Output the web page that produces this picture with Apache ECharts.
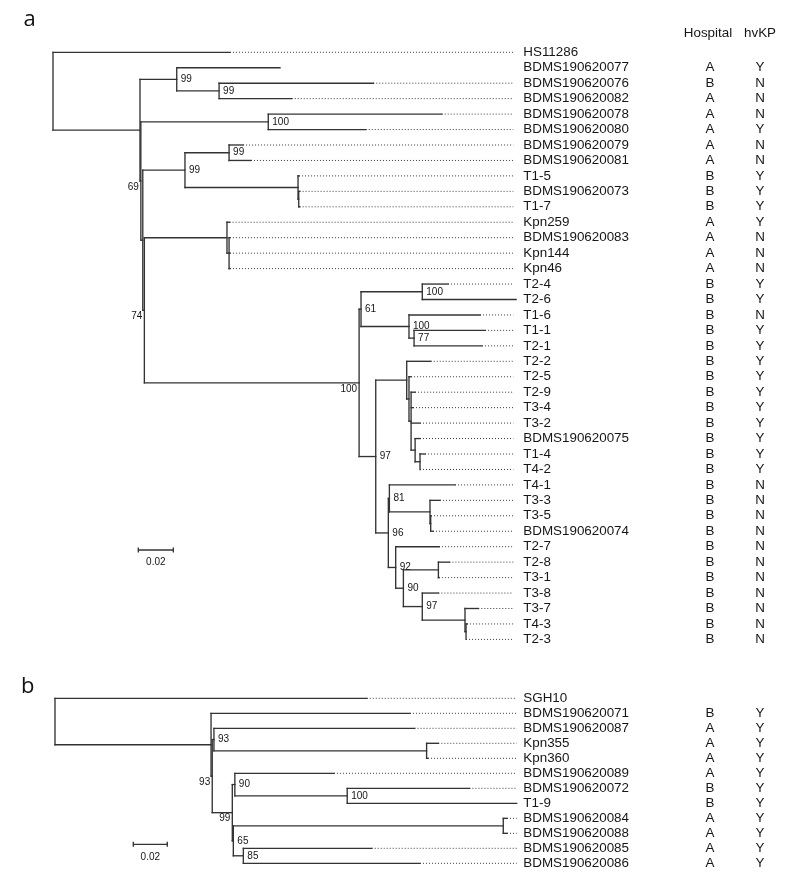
<!DOCTYPE html>
<html>
<head>
<meta charset="utf-8">
<script src="https://cdn.jsdelivr.net/npm/echarts@6.0.0/dist/echarts.min.js"></script>
<style>html,body{margin:0;padding:0;background:#fff}#chart{width:800px;height:875px}</style>
</head>
<body>
<div id="chart"></div>
<script>
// ================= Panel a : data =================
const leavesA = ['HS11286','BDMS190620077','BDMS190620076','BDMS190620082','BDMS190620078','BDMS190620080',
  'BDMS190620079','BDMS190620081','T1-5','BDMS190620073','T1-7','Kpn259','BDMS190620083','Kpn144','Kpn46',
  'T2-4','T2-6','T1-6','T1-1','T2-1','T2-2','T2-5','T2-9','T3-4','T3-2','BDMS190620075','T1-4','T4-2',
  'T4-1','T3-3','T3-5','BDMS190620074','T2-7','T2-8','T3-1','T3-8','T3-7','T4-3','T2-3'];
// distance from root to each tip (substitutions/site)
const tipsA = [0.1011,0.1297,0.1830,0.1364,0.2221,0.1787,
  0.1086,0.1131,0.1406,0.1409,0.1409,0.1009,0.1011,0.1011,0.1011,
  0.2257,0.2646,0.2440,0.2469,0.2451,0.2158,0.2046,0.2069,0.2057,0.2097,0.2097,0.2126,0.2097,
  0.2297,0.2211,0.2160,0.2171,0.2206,0.2265,0.2206,0.2202,0.2430,0.2366,0.2360];
const hospitalA = ['','A','B','A','A','A','A','A','B','B','B','A','A','A','A',
  'B','B','B','B','B','B','B','B','B','B','B','B','B','B','B','B','B','B','B','B','B','B','B','B'];
const hvkpA = ['','Y','N','N','N','Y','N','N','Y','Y','Y','Y','N','N','N',
  'Y','Y','N','Y','Y','Y','Y','Y','Y','Y','Y','Y','Y','N','N','N','N','N','N','N','N','N','N','N'];
// internal nodes: [id, depth from root, bootstrap, children, label side]
const nodesA = [
  ['rootA', 0, 0, ['HS11286','a1']],
  ['a1', 0.0497, 0, ['a99a','a69']],
  ['a99a', 0.0707, 99, ['BDMS190620077','a99b']],
  ['a99b', 0.0949, 99, ['BDMS190620076','BDMS190620082']],
  ['a69', 0.0502, 69, ['a100a','aQ'], 'l'],
  ['a100a', 0.1230, 100, ['BDMS190620078','BDMS190620080']],
  ['aQ', 0.0513, 0, ['a99c','a74']],
  ['a99c', 0.0754, 99, ['a99d','aT15']],
  ['a99d', 0.1006, 99, ['BDMS190620079','BDMS190620081']],
  ['aT15', 0.1400, 0, ['T1-5','aT15b']],
  ['aT15b', 0.1404, 0, ['BDMS190620073','T1-7']],
  ['a74', 0.0522, 74, ['aK1','a100T'], 'l'],
  ['aK1', 0.0994, 0, ['Kpn259','aK2']],
  ['aK2', 0.1006, 0, ['BDMS190620083','Kpn144','Kpn46']],
  ['a100T', 0.1749, 100, ['a61','a97'], 'l'],
  ['a61', 0.1760, 61, ['a100b','a100c']],
  ['a100b', 0.2110, 100, ['T2-4','T2-6']],
  ['a100c', 0.2034, 100, ['T1-6','a77']],
  ['a77', 0.2063, 77, ['T1-1','T2-1']],
  ['a97', 0.1844, 97, ['aU0','a96']],
  ['aU0', 0.2021, 0, ['T2-2','aU1']],
  ['aU1', 0.2034, 0, ['T2-5','aU2']],
  ['aU2', 0.2046, 0, ['T2-9','T3-4','T3-2','aW']],
  ['aW', 0.2069, 0, ['BDMS190620075','aV']],
  ['aV', 0.2097, 0, ['T1-4','T4-2']],
  ['a96', 0.1916, 96, ['a81','a92']],
  ['a81', 0.1922, 81, ['T4-1','aT33']],
  ['aT33', 0.2154, 0, ['T3-3','aT33b']],
  ['aT33b', 0.2158, 0, ['T3-5','BDMS190620074']],
  ['a92', 0.1958, 92, ['T2-7','a90']],
  ['a90', 0.2002, 90, ['aT28','a97b']],
  ['aT28', 0.2202, 0, ['T2-8','T3-1']],
  ['a97b', 0.2110, 97, ['T3-8','aT37']],
  ['aT37', 0.2354, 0, ['T3-7','aT37b']],
  ['aT37b', 0.2360, 0, ['T4-3','T2-3']]
];
const noGuideA = ['BDMS190620077'];
const alignA = 0.2630;

// ================= Panel b : data =================
const leavesB = ['SGH10','BDMS190620071','BDMS190620087','Kpn355','Kpn360','BDMS190620089',
  'BDMS190620072','T1-9','BDMS190620084','BDMS190620088','BDMS190620085','BDMS190620086'];
const tipsB = [0.1834,0.2088,0.2115,0.2255,0.2194,0.1641,0.2438,0.2716,0.2659,0.2659,0.1863,0.2147];
const hospitalB = ['','B','A','A','A','A','B','B','A','A','A','A'];
const hvkpB = ['','Y','Y','Y','Y','Y','Y','Y','Y','Y','Y','Y'];
const nodesB = [
  ['rootB', 0, 0, ['SGH10','b1']],
  ['b1', 0.0918, 0, ['BDMS190620071','b93a']],
  ['b93a', 0.0925, 93, ['b93b','b99'], 'l'],
  ['b93b', 0.0935, 93, ['BDMS190620087','bK']],
  ['bK', 0.2186, 0, ['Kpn355','Kpn360']],
  ['b99', 0.1043, 99, ['b90','b65'], 'l'],
  ['b90', 0.1058, 90, ['BDMS190620089','b100']],
  ['b100', 0.1719, 100, ['BDMS190620072','T1-9']],
  ['b65', 0.1049, 65, ['b8488','b85']],
  ['b8488', 0.2637, 0, ['BDMS190620084','BDMS190620088']],
  ['b85', 0.1108, 85, ['BDMS190620085','BDMS190620086']]
];
const noGuideB = [];
const alignB = 0.2716;

const scaleBarLen = 0.02;
const scaleBarLabel = '0.02';
const columnHeaders = ['Hospital', 'hvKP'];
const panelLetters = ['a', 'b'];

// ================= tree layout =================
function buildTree(leaves, tips, nodes, noGuide, align) {
  const X = {}, Y = {}, map = {};
  leaves.forEach((n, i) => { X[n] = tips[i]; Y[n] = i; });
  nodes.forEach(n => { map[n[0]] = n; });
  function place(id) {
    if (Y[id] !== undefined) return Y[id];
    const n = map[id];
    const ys = n[3].map(place);
    Y[id] = (ys[0] + ys[ys.length - 1]) / 2;
    X[id] = n[1];
    return Y[id];
  }
  place(nodes[0][0]);
  const solid = [], dotted = [], support = [], labels = [];
  nodes.forEach(n => {
    const id = n[0], kids = n[3];
    solid.push([X[id], Y[kids[0]], X[id], Y[kids[kids.length - 1]]]);
    kids.forEach(k => solid.push([X[id], Y[k], X[k], Y[k]]));
    if (n[2]) support.push([X[id], Y[id], n[2], n[4] === 'l' ? 1 : 0]);
  });
  leaves.forEach((l, i) => {
    if (noGuide.indexOf(l) < 0 && tips[i] < align) dotted.push([tips[i], i, align, i]);
    labels.push([align, i, i]);
  });
  return { solid, dotted, support, labels };
}
const treeA = buildTree(leavesA, tipsA, nodesA, noGuideA, alignA);
const treeB = buildTree(leavesB, tipsB, nodesB, noGuideB, alignB);

// ================= styling / layout =================
const LINE = '#333';
const DOT = '#3a3a3a';
const TXT = '#161616';
const FONT = '"Liberation Sans", Arial, sans-serif';
const HOSP_X = 710, HV_X = 760;

function segRender(dotted) {
  return function (params, api) {
    const p1 = api.coord([api.value(0), api.value(1)]);
    const p2 = api.coord([api.value(2), api.value(3)]);
    return {
      type: 'line',
      shape: { x1: p1[0], y1: p1[1], x2: p2[0], y2: p2[1] },
      style: dotted
        ? { stroke: DOT, lineWidth: 1, lineDash: [1, 2] }
        : { stroke: LINE, lineWidth: 1.35, lineCap: 'square' }
    };
  };
}
function supportRender(params, api) {
  const p = api.coord([api.value(0), api.value(1)]);
  const left = api.value(3) === 1;
  return {
    type: 'text',
    x: left ? p[0] - 2 : p[0] + 4,
    y: left ? p[1] + 6 : p[1],
    style: { text: String(api.value(2)), fill: TXT, fontSize: 10, fontFamily: FONT,
      align: left ? 'right' : 'left', verticalAlign: 'middle' }
  };
}
function labelRender(leaves, hosp, hv, pad) {
  return function (params, api) {
    const p = api.coord([api.value(0), api.value(1)]);
    const i = api.value(2);
    const st = (t, al) => ({ text: t, fill: TXT, fontSize: 13.4, fontFamily: FONT, align: al, verticalAlign: 'middle' });
    return {
      type: 'group',
      children: [
        { type: 'text', x: p[0] + pad, y: p[1], style: st(leaves[i], 'left') },
        { type: 'text', x: HOSP_X, y: p[1], style: st(hosp[i], 'center') },
        { type: 'text', x: HV_X, y: p[1], style: st(hv[i], 'center') }
      ]
    };
  };
}
function scaleRender(x0, y0) {
  return function (params, api) {
    const len = api.size([api.value(0), 0])[0];
    const s = { stroke: LINE, lineWidth: 1.35 };
    return {
      type: 'group',
      children: [
        { type: 'line', shape: { x1: x0, y1: y0, x2: x0 + len, y2: y0 }, style: s },
        { type: 'line', shape: { x1: x0, y1: y0 - 2.5, x2: x0, y2: y0 + 2.5 }, style: s },
        { type: 'line', shape: { x1: x0 + len, y1: y0 - 2.5, x2: x0 + len, y2: y0 + 2.5 }, style: s },
        { type: 'text', x: x0 + len / 2, y: y0 + 12.5,
          style: { text: scaleBarLabel, fill: TXT, fontSize: 10, fontFamily: FONT, align: 'center', verticalAlign: 'middle' } }
      ]
    };
  };
}

function seriesFor(tree, idx, leaves, hosp, hv, pad, sx, sy) {
  const base = { type: 'custom', coordinateSystem: 'cartesian2d', xAxisIndex: idx, yAxisIndex: idx, silent: true, clip: false, animation: false };
  return [
    Object.assign({}, base, { renderItem: segRender(true), data: tree.dotted, z: 1 }),
    Object.assign({}, base, { renderItem: segRender(false), data: tree.solid, z: 2 }),
    Object.assign({}, base, { renderItem: supportRender, data: tree.support, z: 3 }),
    Object.assign({}, base, { renderItem: labelRender(leaves, hosp, hv, pad), data: tree.labels, z: 3 }),
    Object.assign({}, base, { renderItem: scaleRender(sx, sy), data: [[scaleBarLen]], z: 3 })
  ];
}

const chart = echarts.init(document.getElementById('chart'), null, { renderer: 'canvas' });
chart.setOption({
  animation: false,
  backgroundColor: '#fff',
  grid: [
    { left: 53, top: 52.3, width: 460.3, height: 587.1, containLabel: false, outerBoundsMode: 'none' },
    { left: 55, top: 698.3, width: 461.7, height: 165, containLabel: false, outerBoundsMode: 'none' }
  ],
  xAxis: [
    { type: 'value', gridIndex: 0, min: 0, max: alignA, show: false },
    { type: 'value', gridIndex: 1, min: 0, max: alignB, show: false }
  ],
  yAxis: [
    { type: 'value', gridIndex: 0, min: 0, max: leavesA.length - 1, inverse: true, show: false },
    { type: 'value', gridIndex: 1, min: 0, max: leavesB.length - 1, inverse: true, show: false }
  ],
  graphic: [
    { type: 'text', x: 23.5, y: 20, style: { text: panelLetters[0], fill: '#111', fontSize: 22, fontFamily: '"Open Sans", sans-serif', verticalAlign: 'middle' } },
    { type: 'text', x: 21, y: 687, style: { text: panelLetters[1], fill: '#111', fontSize: 22, fontFamily: '"Open Sans", sans-serif', verticalAlign: 'middle' } },
    { type: 'text', x: 708, y: 33, style: { text: columnHeaders[0], fill: TXT, fontSize: 13.4, fontFamily: FONT, align: 'center', verticalAlign: 'middle' } },
    { type: 'text', x: 760, y: 33, style: { text: columnHeaders[1], fill: TXT, fontSize: 13.4, fontFamily: FONT, align: 'center', verticalAlign: 'middle' } }
  ],
  series: [].concat(
    seriesFor(treeA, 0, leavesA, hospitalA, hvkpA, 10, 138.3, 550),
    seriesFor(treeB, 1, leavesB, hospitalB, hvkpB, 6.6, 133.3, 844.3)
  )
});
</script>
</body>
</html>
